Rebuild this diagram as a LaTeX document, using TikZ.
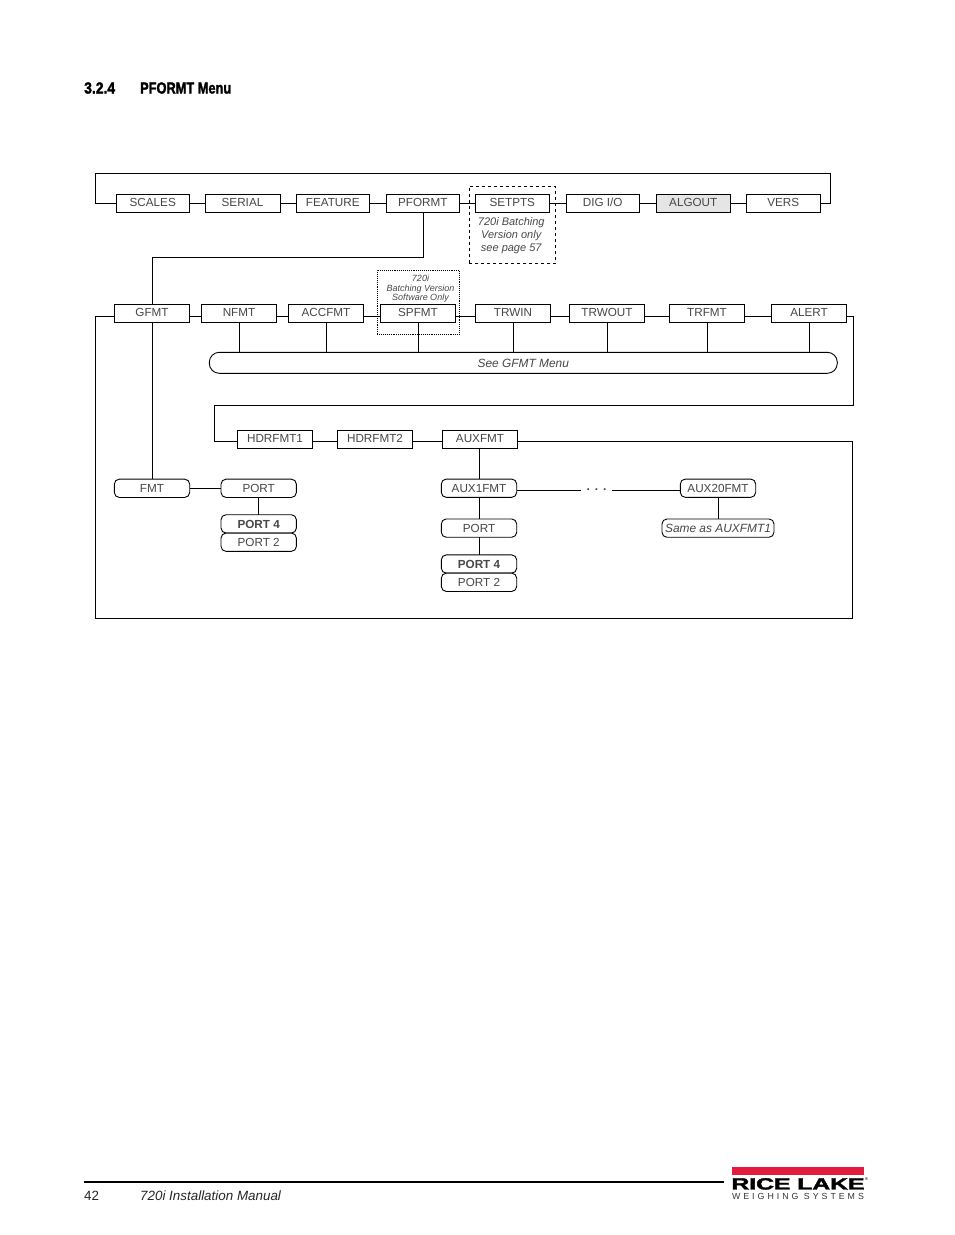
\documentclass[tikz,border=0pt]{standalone}
\usepackage{fontspec}
\setmainfont{Liberation Sans}
\newfontfamily\headfont[FakeBold=2]{Liberation Sans Bold}
\newfontfamily\logofont[LetterSpace=34]{Liberation Sans}
\newfontfamily\lakefont[FakeBold=2]{Liberation Sans Bold}
\usetikzlibrary{positioning}
\definecolor{logored}{HTML}{E31B3C}
\definecolor{menutext}{gray}{0.28}

\begin{document}
\begin{tikzpicture}[
    x=1pt, y=-1pt,
    node distance=16pt and 16pt,
    font=\fontsize{11.7}{13}\selectfont,
    text=menutext,
    menubox/.style={rectangle, draw=black, line width=0.9pt, fill=white, minimum width=75.4pt, minimum height=18.3pt, inner sep=0pt, outer sep=0pt, text height=8.5pt, text depth=2pt},
    topbox/.style={menubox, minimum width=73.5pt},
    roundbox/.style={menubox, rounded corners=5pt, text depth=0pt},
    seebox/.style={menubox, rounded corners=10pt, minimum width=628pt, minimum height=21pt, text depth=0pt, font=\fontsize{11.9}{13}\selectfont\itshape},
    noteframe/.style={rectangle, draw=black, line width=0.9pt, inner sep=0pt, outer sep=0pt},
    notetext/.style={align=center, inner sep=0pt, font=\fontsize{11}{13}\selectfont\itshape},
    line/.style={draw=black, line width=0.9pt}
]
\useasboundingbox (0,0) rectangle (954,1235);

% Heading
\node[anchor=base west, inner sep=0pt, text=black, font=\fontsize{16}{18}\headfont] (secnum) at (84,93.5) {\scalebox{0.87}[1]{3.2.4}};
\node[anchor=base west, inner sep=0pt, text=black, font=\fontsize{16}{18}\headfont] (sectitle) at (140,93.5) {\scalebox{0.8}[1]{PFORMT Menu}};

% Frames behind the menu
\node[noteframe, dashed, minimum width=86.4pt, minimum height=77.3pt] (setptsframe) at (512.5,224.6) {};
\node[noteframe, densely dotted, minimum width=82pt, minimum height=64pt] (spfmtframe) at (418.3,302.3) {};

% Top row
\node[topbox] (scales) at (152.75,203.1) {SCALES};
\node[topbox, minimum width=75pt, right=15.5pt of scales] (serial) {SERIAL};
\node[topbox, right=16pt of serial] (feature) {FEATURE};
\node[topbox, right=16.5pt of feature] (pformt) {PFORMT};
\node[topbox, right=16pt of pformt] (setpts) {SETPTS};
\node[topbox, right=17pt of setpts] (digio) {DIG I/O};
\node[topbox, fill=black!10, right=17pt of digio] (algout) {ALGOUT};
\node[topbox, right=16.5pt of algout] (vers) {VERS};
\node[notetext, below=5.5pt of setpts, xshift=-1pt] (setptsnote) {720i Batching\\Version only\\see page 57};

% Second row
\node[menubox] (gfmt) at (152,313.3) {GFMT};
\node[menubox, right=11.6pt of gfmt] (nfmt) {NFMT};
\node[menubox, right=11.6pt of nfmt] (accfmt) {ACCFMT};
\node[menubox, right=16.6pt of accfmt] (spfmt) {SPFMT};
\node[menubox, right=19.6pt of spfmt] (trwin) {TRWIN};
\node[menubox, right=18.6pt of trwin] (trwout) {TRWOUT};
\node[menubox, right=24.6pt of trwout] (trfmt) {TRFMT};
\node[menubox, right=26.6pt of trfmt] (alert) {ALERT};
\node[notetext, font=\fontsize{9}{9.5}\selectfont\itshape, above=1.5pt of spfmt, xshift=2.5pt] (spfmtnote) {720i\\Batching Version\\Software Only};
\node[seebox] (seegfmt) at (523.3,362.8) {See GFMT Menu};

% Third row
\node[menubox] (hdrfmtone) at (275,439.2) {HDRFMT1};
\node[menubox, right=24.6pt of hdrfmtone] (hdrfmttwo) {HDRFMT2};
\node[menubox, right=29.6pt of hdrfmttwo] (auxfmt) {AUXFMT};

% FMT branch
\node[roundbox, below=156.7pt of gfmt] (fmt) {FMT};
\node[roundbox, right=31.3pt of fmt] (port) {PORT};
\node[roundbox, font=\fontsize{11.7}{13}\selectfont\bfseries, below=17.3pt of port] (portfour) {PORT 4};
\node[roundbox, below=0pt of portfour] (porttwo) {PORT 2};

% AUX branch
\node[roundbox, below=30.7pt of auxfmt, xshift=-1pt] (auxone) {AUX1FMT};
\node[roundbox, below=21.6pt of auxone] (auxport) {PORT};
\node[roundbox, font=\fontsize{11.7}{13}\selectfont\bfseries, below=17.6pt of auxport] (auxportfour) {PORT 4};
\node[roundbox, below=0pt of auxportfour] (auxporttwo) {PORT 2};
\node[inner sep=0pt, minimum width=31pt, text height=0.5pt, text depth=0pt, font=\fontsize{12}{12}\selectfont\bfseries] (dots) at (596.5,490) {.\hspace{5pt}.\hspace{5pt}.};
\node[roundbox, right=163.6pt of auxone] (auxtwenty) {AUX20FMT};
\node[roundbox, minimum width=112pt, font=\fontsize{11.9}{13}\selectfont\itshape, below=21.6pt of auxtwenty] (sameas) {Same as AUXFMT1};

% Bend points
\coordinate (topleft) at (95.3,173.3);
\coordinate (topright) at (830.3,173.3);
\coordinate (pbend) at (290,257.3);
\coordinate (outerbl) at (95.3,618.3);
\coordinate (outerbr) at (852.7,618.3);
\coordinate (wrapright) at (853.7,405);
\coordinate (wrapleft) at (214.3,405);

% Edges
\draw[line] (scales.west) -| (topleft) -- (topright) |- (vers.east);
\draw[line] (scales) -- (serial);
\draw[line] (serial) -- (feature);
\draw[line] (feature) -- (pformt);
\draw[line] (pformt) -- (setpts);
\draw[line] (setpts) -- (digio);
\draw[line] (digio) -- (algout);
\draw[line] (algout) -- (vers);
\draw[line] ([xshift=1pt]pformt.south) |- (pbend) -| (gfmt.north);

\draw[line] ([yshift=-2.7pt]gfmt.east) -- ([yshift=-2.7pt]nfmt.west);
\draw[line] ([yshift=-2.7pt]nfmt.east) -- ([yshift=-2.7pt]accfmt.west);
\draw[line] ([yshift=-2.7pt]accfmt.east) -- ([yshift=-2.7pt]spfmt.west);
\draw[line] ([yshift=-2.7pt]spfmt.east) -- ([yshift=-2.7pt]trwin.west);
\draw[line] ([yshift=-2.7pt]trwin.east) -- ([yshift=-2.7pt]trwout.west);
\draw[line] ([yshift=-2.7pt]trwout.east) -- ([yshift=-2.7pt]trfmt.west);
\draw[line] ([yshift=-2.7pt]trfmt.east) -- ([yshift=-2.7pt]alert.west);

% Down to See GFMT
\draw[line] (nfmt.south) -- (nfmt.south |- seegfmt.north);
\draw[line] (accfmt.south) -- (accfmt.south |- seegfmt.north);
\draw[line] (spfmt.south) -- (spfmt.south |- seegfmt.north);
\draw[line] (trwin.south) -- (trwin.south |- seegfmt.north);
\draw[line] (trwout.south) -- (trwout.south |- seegfmt.north);
\draw[line] (trfmt.south) -- (trfmt.south |- seegfmt.north);
\draw[line] (alert.south) -- (alert.south |- seegfmt.north);

% Wrap to third row and outer frame
\draw[line] ([yshift=-2.7pt]alert.east) -| (wrapright) -- (wrapleft) |- ([yshift=-2.3pt]hdrfmtone.west);
\draw[line] ([yshift=-2.3pt]hdrfmtone.east) -- ([yshift=-2.3pt]hdrfmttwo.west);
\draw[line] ([yshift=-2.3pt]hdrfmttwo.east) -- ([yshift=-2.3pt]auxfmt.west);
\draw[line] ([yshift=-2.7pt]gfmt.west) -| (outerbl) -- (outerbr) |- ([yshift=-2.3pt]auxfmt.east);

% Branch edges
\draw[line] (gfmt) -- (fmt);
\draw[line] (fmt) -- (port);
\draw[line] (port) -- (portfour);
\draw[line] (auxfmt.south -| auxone.north) -- (auxone.north);
\draw[line] (auxone) -- (auxport);
\draw[line] (auxport) -- (auxportfour);
\draw[line] (dots.west -| auxone.east) -- (dots.west);
\draw[line] (dots.east) -- (dots.east -| auxtwenty.west);
\draw[line] (auxtwenty) -- (sameas);

% Footer
\node[anchor=base west, inner sep=0pt, text=black!85, font=\fontsize{13.4}{15}\selectfont] (pagenum) at (84,1200) {42};
\node[anchor=base west, inner sep=0pt, text=black!85, font=\fontsize{13.4}{15}\selectfont\itshape] (manual) at (140,1200) {720i Installation Manual};
\coordinate (ruleleft) at (84,1182);
\coordinate (ruleright) at (724,1182);
\draw[draw=black, line width=2pt] (ruleleft) -- (ruleright);

% Logo
\node[rectangle, fill=logored, minimum width=132pt, minimum height=7.5pt, inner sep=0pt, outer sep=0pt] (logobar) at (798,1171) {};
\node[inner sep=0pt, text=black, below=3.2pt of logobar] (logoname) {\resizebox{133pt}{11.3pt}{\lakefont RICE LAKE}};
\node[inner sep=0pt, text=black, font=\fontsize{4}{4}\selectfont] (logomark) at (866.5,1179) {®};
\node[inner sep=0pt, anchor=base, text=black!80, font=\fontsize{8.8}{9}\logofont] (logosub) at (798,1199) {WEIGHING SYSTEMS};
\end{tikzpicture}
\end{document}
